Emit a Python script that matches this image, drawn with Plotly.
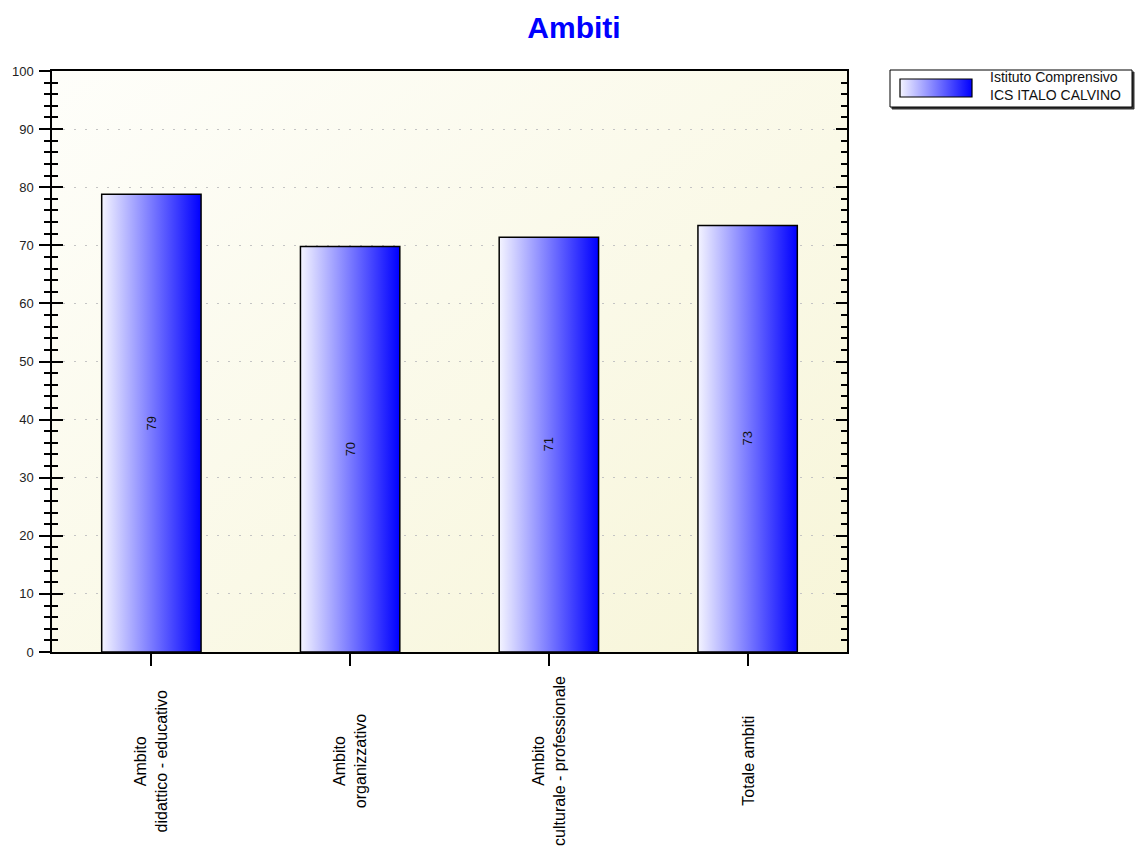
import base64
import plotly.graph_objects as go

# ---- data ----
categories = ["Ambito<br>didattico - educativo", "Ambito<br>organizzativo",
              "Ambito<br>culturale - professionale", "Totale ambiti"]
values = [78.8, 69.8, 71.4, 73.4]
value_labels = ["79", "70", "71", "73"]
series_name = "Istituto Comprensivo<br>ICS ITALO CALVINO"
y_ticks = [0, 10, 20, 30, 40, 50, 60, 70, 80, 90, 100]

W, H = 1135, 849
L, R, T, B = 52, 847, 71, 652


def px_x(p):
    return (p - L) / (R - L)


def px_y(p):
    return (B - p) / (B - T)


def svg_uri(svg):
    return "data:image/svg+xml;base64," + base64.b64encode(svg.encode()).decode()


bg_svg = ('<svg xmlns="http://www.w3.org/2000/svg" width="100" height="100" viewBox="0 0 100 100" '
          'preserveAspectRatio="none"><defs><linearGradient id="g" x1="0" y1="0" x2="1" y2="1">'
          '<stop offset="0" stop-color="#fefefa"/><stop offset="1" stop-color="#f7f5d8"/>'
          '</linearGradient></defs><rect width="100" height="100" fill="url(#g)"/></svg>')
sw_svg = ('<svg xmlns="http://www.w3.org/2000/svg" width="100" height="100" viewBox="0 0 100 100" '
          'preserveAspectRatio="none"><defs><linearGradient id="g" x1="0" y1="0" x2="1" y2="0">'
          '<stop offset="0" stop-color="#f4f4ff"/><stop offset="1" stop-color="#0000ff"/>'
          '</linearGradient></defs><rect width="100" height="100" fill="url(#g)"/></svg>')

FONT = "Liberation Sans"

fig = go.Figure()
half = 0.25
for i, v in enumerate(values):
    fig.add_trace(go.Scatter(
        x=[i - half, i + half, i + half, i - half, i - half],
        y=[0, 0, v, v, 0],
        mode="lines", fill="toself",
        fillgradient=dict(type="horizontal", colorscale=[[0, "#f4f4ff"], [1, "#0000ff"]]),
        line=dict(color="black", width=1.5),
        showlegend=False, hoverinfo="skip",
    ))
    fig.add_annotation(x=i, y=v / 2, text=value_labels[i], textangle=-90, showarrow=False,
                       font=dict(family=FONT, size=13, color="#111111"))
    fig.add_annotation(x=i, xref="x", y=px_y(761), yref="paper", text=categories[i],
                       textangle=-90, showarrow=False, align="center",
                       xanchor="center", yanchor="middle",
                       font=dict(family=FONT, size=16, color="black"))

# invisible trace on overlay axis for inside ticks
fig.add_trace(go.Scatter(x=[0], y=[0], yaxis="y2", mode="markers",
                         marker=dict(opacity=0), showlegend=False, hoverinfo="skip"))

fig.update_layout(
    width=W, height=H,
    margin=dict(l=L, r=W - R, t=T, b=H - B),
    paper_bgcolor="white", plot_bgcolor="rgba(0,0,0,0)",
    title=dict(text="<b>Ambiti</b>", x=574 / W, xanchor="center", xref="container",
               y=1 - 27 / H, yanchor="middle",
               font=dict(family=FONT, size=30, color="#0000ff")),
    xaxis=dict(range=[-0.5, 3.5], tickvals=[0, 1, 2, 3], ticktext=["", "", "", ""],
               ticks="outside", ticklen=12, tickwidth=1.5, tickcolor="black",
               showline=True, linecolor="black", linewidth=1.5, mirror=True,
               showgrid=False, zeroline=False),
    yaxis=dict(range=[0, 100], tickvals=y_ticks, ticks="outside", ticklen=11, tickwidth=1.5,
               tickcolor="black", minor=dict(dtick=2, ticks="outside", ticklen=6,
                                             tickcolor="black", tickwidth=1.5, showgrid=False),
               showgrid=True, gridcolor="#c4c4c4", griddash="2px,9px", gridwidth=1,
               showline=True, linecolor="black", linewidth=1.5, mirror=True, zeroline=False,
               tickfont=dict(family=FONT, size=13, color="#222222"),
               ticklabelstandoff=3),
    yaxis2=dict(range=[0, 100], overlaying="y", side="left", tickvals=y_ticks,
                ticks="inside", ticklen=11, tickwidth=1.5, tickcolor="black",
                minor=dict(dtick=2, ticks="inside", ticklen=6, tickcolor="black", tickwidth=1.5),
                mirror="ticks", showticklabels=False, showgrid=False, zeroline=False,
                showline=False),
    showlegend=False,
    images=[
        dict(source=svg_uri(bg_svg), xref="paper", yref="paper", x=0, y=1, sizex=1, sizey=1,
             sizing="stretch", layer="below", xanchor="left", yanchor="top"),
        dict(source=svg_uri(sw_svg), xref="paper", yref="paper", x=px_x(900), y=px_y(79),
             sizex=px_x(972) - px_x(900), sizey=px_y(79) - px_y(97),
             sizing="stretch", layer="above", xanchor="left", yanchor="top"),
    ],
    shapes=[
        # legend shadow
        dict(type="rect", xref="paper", yref="paper", x0=px_x(892), x1=px_x(1134),
             y0=px_y(109), y1=px_y(72), line=dict(color="#333333", width=1),
             fillcolor="#333333", layer="below"),
        dict(type="rect", xref="paper", yref="paper", x0=px_x(890), x1=px_x(1132),
             y0=px_y(107), y1=px_y(70), line=dict(color="black", width=1),
             fillcolor="white", layer="below"),
        dict(type="rect", xref="paper", yref="paper", x0=px_x(900), x1=px_x(972),
             y0=px_y(97), y1=px_y(79), line=dict(color="black", width=1.2),
             fillcolor="rgba(0,0,0,0)", layer="above"),
    ],
)

fig.add_annotation(xref="paper", yref="paper", x=px_x(988), y=px_y(86), text=series_name,
                   showarrow=False, xanchor="left", yanchor="middle", align="left",
                   font=dict(family=FONT, size=14, color="#111111"))

fig.write_html("out.html", config={"displayModeBar": False},
               post_script="document.body.style.margin='0px';")
